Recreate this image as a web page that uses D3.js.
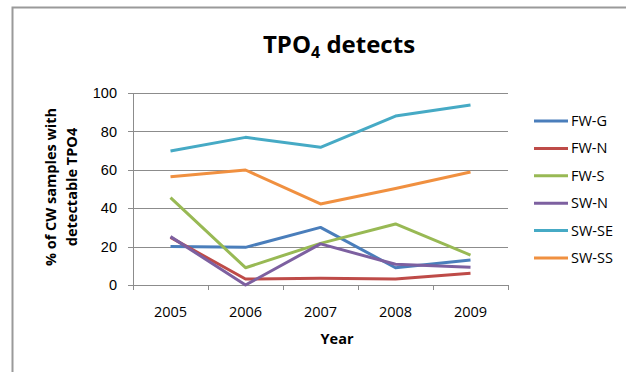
<!DOCTYPE html>
<head>
  <meta charset="utf-8">
  <script src="https://d3js.org/d3.v7.min.js"></script>
  <style>
    body { margin: 0; background: #fff; }
    svg { font-family: "Open Sans", Lato, sans-serif; }
    .grid line { stroke: #8c8c8c; stroke-width: 1; shape-rendering: crispEdges; }
    .axis path, .axis line { stroke: #8c8c8c; shape-rendering: crispEdges; }
    .axis text { font-size: 14.5px; fill: #000; }
    .line { fill: none; stroke-width: 3px; stroke-linejoin: round; }
    .legend text { font-size: 14.5px; }
  </style>
</head>
<body>
<div id="chart"></div>
<script>
// data
var years = ["2005", "2006", "2007", "2008", "2009"];
var seriesNames = ["FW-G", "FW-N", "FW-S", "SW-N", "SW-SE", "SW-SS"];
var fwG  = [20, 19.6, 30, 9, 13];
var fwN  = [24.8, 3.1, 3.5, 3.1, 6.1];
var fwS  = [45.5, 9, 21.7, 31.8, 15.6];
var swN  = [25.2, 0, 21.4, 10.8, 9.2];
var swSE = [69.8, 76.9, 71.7, 88, 93.8];
var swSS = [56.4, 59.9, 42.2, 50.3, 58.9];
var yTicks = [0, 20, 40, 60, 80, 100];
var colors = ["#4a7ebb", "#be4b48", "#98b954", "#7d60a0", "#46aac5", "#f09040"];

var allSeries = [fwG, fwN, fwS, swN, swSE, swSS];

var width = 626, height = 372;
var margin = {top: 93, right: 118, bottom: 87, left: 133};

var svg = d3.select("#chart").append("svg")
    .attr("width", width)
    .attr("height", height);

// outer frame (only top + left visible)
svg.append("path")
    .attr("d", "M12.5," + height + "V7.5H" + width)
    .attr("fill", "none")
    .attr("stroke", "#9a9a9a")
    .attr("stroke-width", 2);

var x = d3.scaleBand().domain(years)
    .range([margin.left, width - margin.right]);
var y = d3.scaleLinear().domain([0, 100])
    .range([height - margin.bottom, margin.top]);

// gridlines
svg.append("g").attr("class", "grid")
  .selectAll("line").data(yTicks.slice(1))
  .enter().append("line")
    .attr("x1", margin.left).attr("x2", width - margin.right)
    .attr("y1", function(d) { return Math.round(y(d)) + 0.5; })
    .attr("y2", function(d) { return Math.round(y(d)) + 0.5; });

// y axis
svg.append("g").attr("class", "axis")
    .attr("transform", "translate(" + margin.left + ",0)")
    .call(d3.axisLeft(y).tickValues(yTicks).tickSize(5).tickSizeOuter(0).tickPadding(11));

// x axis with category-boundary ticks
var xAxisG = svg.append("g").attr("class", "axis")
    .attr("transform", "translate(0," + y(0) + ")");
xAxisG.append("line")
    .attr("x1", margin.left).attr("x2", width - margin.right)
    .attr("y1", 0.5).attr("y2", 0.5);
var bounds = years.map(function(d) { return x(d); }).concat([x(years[years.length - 1]) + x.bandwidth()]);
xAxisG.selectAll(".bt").data(bounds).enter().append("line")
    .attr("x1", function(d) { return Math.round(d) + 0.5; })
    .attr("x2", function(d) { return Math.round(d) + 0.5; })
    .attr("y1", 0).attr("y2", 5);
xAxisG.selectAll("text").data(years).enter().append("text")
    .attr("x", function(d) { return x(d) + x.bandwidth() / 2; })
    .attr("y", 32)
    .attr("text-anchor", "middle")
    .text(function(d) { return d; });

// lines
var line = d3.line()
    .x(function(d, i) { return x(years[i]) + x.bandwidth() / 2; })
    .y(function(d) { return y(d); });

allSeries.forEach(function(s, i) {
  svg.append("path")
      .datum(s)
      .attr("class", "line")
      .attr("stroke", colors[i])
      .attr("d", line);
});

// title
var title = svg.append("text")
    .attr("x", 339).attr("y", 53)
    .attr("text-anchor", "middle")
    .style("font-size", "24px")
    .style("font-weight", "bold");
title.append("tspan").text("TPO");
title.append("tspan").text("4").attr("dy", 5).style("font-size", "16px");
title.append("tspan").text(" detects").attr("dy", -5);

// axis titles
svg.append("text")
    .attr("x", 337).attr("y", 344)
    .attr("text-anchor", "middle")
    .style("font-size", "14.5px").style("font-weight", "bold")
    .text("Year");

var yl = svg.append("text")
    .attr("transform", "translate(56,187) rotate(-90)")
    .attr("text-anchor", "middle")
    .style("font-size", "14.5px").style("font-weight", "bold");
yl.append("tspan").attr("x", 0).attr("y", 0).text("% of CW samples with");
yl.append("tspan").attr("x", 0).attr("y", 21).text("detectable TPO4");

// legend
var legend = svg.append("g").attr("class", "legend");
var ly = d3.scalePoint().domain(seriesNames).range([121, 258]);
seriesNames.forEach(function(n, i) {
  legend.append("line")
      .attr("x1", 534).attr("x2", 568)
      .attr("y1", ly(n)).attr("y2", ly(n))
      .attr("stroke", colors[i]).attr("stroke-width", 3);
  legend.append("text")
      .attr("x", 571).attr("y", ly(n) + 5)
      .text(n);
});
</script>
</body>
